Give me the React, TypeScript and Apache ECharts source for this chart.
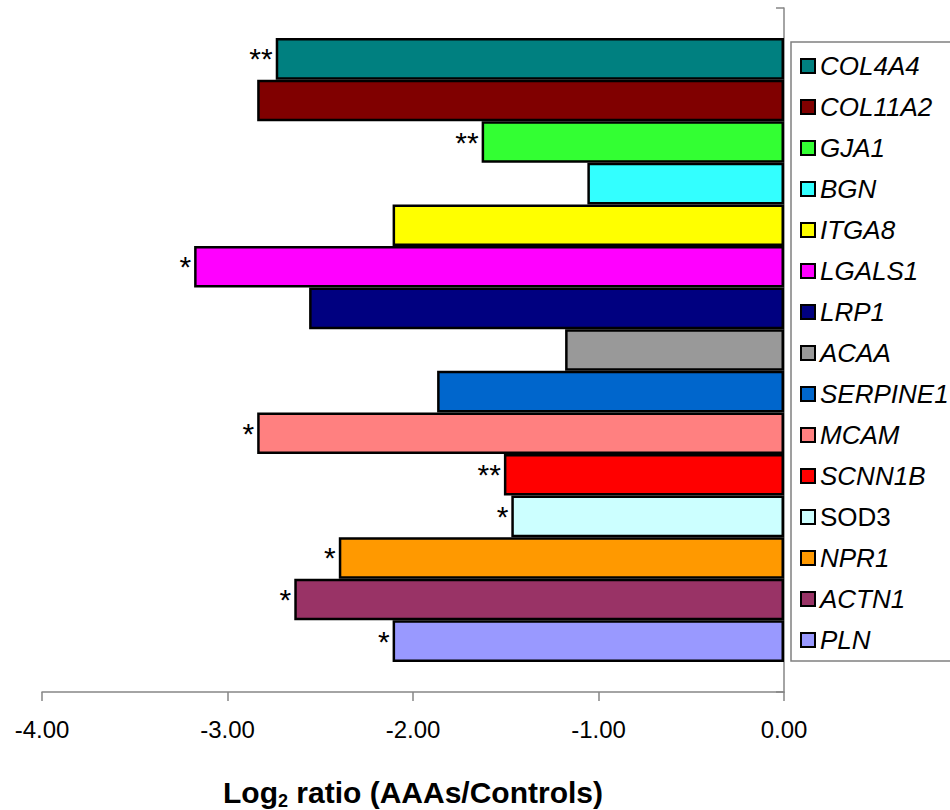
import React, { useEffect, useRef } from "react";
import * as echarts from "echarts";

const genes = [
  "COL4A4", "COL11A2", "GJA1", "BGN", "ITGA8", "LGALS1", "LRP1", "ACAA",
  "SERPINE1", "MCAM", "SCNN1B", "SOD3", "NPR1", "ACTN1", "PLN",
];
const values = [
  -2.74, -2.84, -1.63, -1.06, -2.11, -3.18, -2.56, -1.18,
  -1.87, -2.84, -1.51, -1.47, -2.40, -2.64, -2.11,
];
const significance = [
  "**", "", "**", "", "", "*", "", "",
  "", "*", "**", "*", "*", "*", "*",
];
const palette = [
  "#008080", "#800000", "#33FF33", "#33FFFF", "#FFFF00", "#FF00FF", "#000080", "#999999",
  "#0066CC", "#FF8080", "#FF0000", "#CCFFFF", "#FF9900", "#993366", "#9999FF",
];
const uprightNames = ["SOD3"];
const xTicks = { min: -4, max: 0, interval: 1 };
const FONT = "Liberation Sans, Arial, sans-serif";

export default function App() {
  const ref = useRef<HTMLDivElement>(null);
  useEffect(() => {
    if (!ref.current) return;
    const chart = echarts.init(ref.current, undefined, { renderer: "svg" });
    const series = genes.map((g, i) => ({
      type: "bar",
      name: g,
      data: [values[i]],
      barGap: "0%",
      barCategoryGap: "8.8%",
      itemStyle: { color: palette[i], borderColor: "#000", borderWidth: 2.5 },
      label: {
        show: significance[i] !== "",
        position: "left",
        distance: 3,
        formatter: significance[i] || "",
        fontSize: 30,
        fontFamily: FONT,
        color: "#000",
      },
    }));
    chart.setOption({
      animation: false,
      backgroundColor: "#fff",
      textStyle: { fontFamily: FONT },
      grid: {
        left: 42,
        right: 166,
        top: 8,
        bottom: 118,
        containLabel: false,
        outerBoundsMode: "none",
      },
      legend: {
        orient: "vertical",
        left: 791,
        top: 42,
        padding: [11, 120, 8, 9],
        itemGap: 15,
        itemWidth: 14,
        itemHeight: 14,
        icon: "rect",
        backgroundColor: "#fff",
        borderColor: "#808080",
        borderWidth: 1.5,
        itemStyle: { borderColor: "#000", borderWidth: 2 },
        textStyle: {
          fontSize: 26,
          lineHeight: 26,
          fontStyle: "italic",
          color: "#000",
          fontFamily: FONT,
        },
        data: genes.map((g) =>
          uprightNames.includes(g) ? { name: g, textStyle: { fontStyle: "normal" } } : g
        ),
      },
      xAxis: {
        type: "value",
        min: xTicks.min,
        max: xTicks.max,
        interval: xTicks.interval,
        splitLine: { show: false },
        axisLine: { show: true, onZero: false, lineStyle: { color: "#868686", width: 1.5 } },
        axisTick: { show: true, length: 9, lineStyle: { color: "#868686", width: 1.5 } },
        axisLabel: {
          formatter: (v: number) => v.toFixed(2),
          fontSize: 24,
          color: "#000",
          margin: 25,
          fontFamily: FONT,
        },
        name: "{a|Log}{s|2}{a| ratio (AAAs/Controls)}",
        nameLocation: "middle",
        nameGap: 82,
        nameTextStyle: {
          rich: {
            a: { fontSize: 30, fontWeight: "bold", color: "#000", fontFamily: FONT, lineHeight: 30 },
            s: {
              fontSize: 18,
              fontWeight: "bold",
              color: "#000",
              fontFamily: FONT,
              verticalAlign: "bottom",
              lineHeight: 36,
            },
          },
        },
      },
      yAxis: {
        type: "category",
        data: [""],
        position: "right",
        axisLine: { show: true, lineStyle: { color: "#868686", width: 1.5 } },
        axisTick: { show: true, inside: true, length: 8, lineStyle: { color: "#868686", width: 1.5 } },
        axisLabel: { show: false },
        splitLine: { show: false },
      },
      series,
    });
    return () => chart.dispose();
  }, []);
  return (
    <div
      ref={ref}
      style={{ position: "absolute", left: 0, top: 0, width: 950, height: 810 }}
    />
  );
}
